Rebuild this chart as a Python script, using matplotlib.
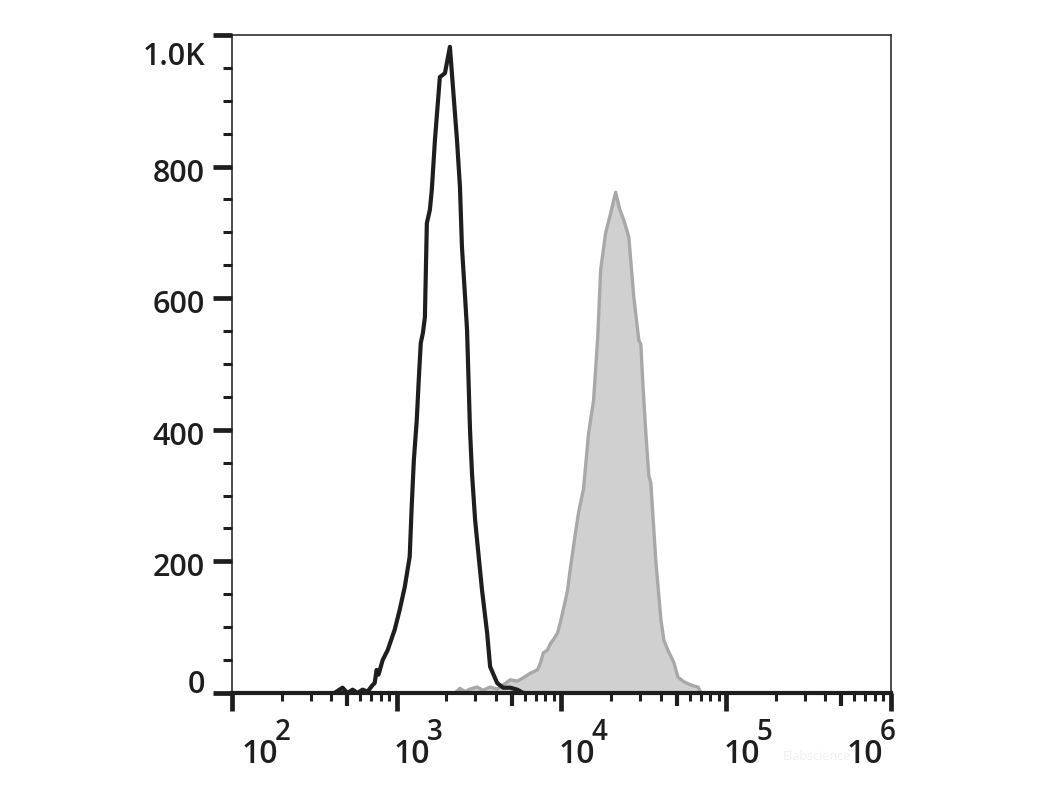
import numpy as np
import matplotlib.pyplot as plt
from matplotlib.ticker import FixedLocator, MultipleLocator, NullFormatter
from matplotlib.transforms import offset_copy, blended_transform_factory

plt.rcParams['font.family'] = ['Open Sans', 'DejaVu Sans']

# control (black outline), fluorescence intensity vs. count
ctrl_x = [419, 469, 502, 540, 578, 621, 665, 714, 735, 755,
          776, 822, 881, 972, 1042, 1119, 1199, 1233, 1271, 1324,
          1361, 1400, 1442, 1483, 1524, 1589, 1633, 1706, 1828, 1963,
          2104, 2163, 2323, 2421, 2489, 2600, 2673, 2786, 2864, 2992,
          3076, 3296, 3540, 3690, 4074, 4426, 4887, 5395, 5861]
ctrl_y = [0, 8, 0, 5, 0, 5, 2, 12, 15, 35,
          28, 50, 65, 96, 126, 161, 207, 283, 354, 415,
          476, 532, 547, 571, 714, 734, 764, 840, 936, 942,
          982, 942, 840, 769, 678, 602, 552, 400, 334, 263,
          232, 156, 91, 40, 15, 8, 8, 5, 0]

# stained sample (grey filled)
stain_x = [684, 2259, 2421, 2600, 2786, 3076, 3342, 3690, 4074, 4426,
           4887, 5395, 5861, 6471, 7145, 7447, 7762, 8222, 8570, 8933,
           9463, 9863, 10570, 10890, 11350, 12160, 12700, 13610, 14620, 15670,
           16600, 17300, 18540, 19890, 21330, 22590, 23880, 25640, 27480, 29500,
           30340, 31190, 32530, 33930, 34890, 37410, 40170, 41880, 44290, 48160,
           50950, 55430, 61190, 67460, 70460]
stain_y = [0, 0, 7, 2, 6, 9, 4, 9, 6, 12,
           20, 18, 23, 30, 35, 45, 61, 65, 75, 81,
           91, 108, 141, 156, 191, 243, 274, 310, 395, 445,
           540, 643, 699, 729, 761, 735, 719, 693, 602, 536,
           530, 471, 395, 330, 319, 200, 111, 80, 65, 46,
           24, 17, 12, 9, 0]

y_ticks = [0, 200, 400, 600, 800, 1000]
y_labels = ['0', '200', '400', '600', '800', '1.0K']
x_exps = [2, 3, 4, 5, 6]

ink = '#1e1e1e'

fig = plt.figure(figsize=(10.51, 7.88), dpi=100)
ax = fig.add_axes([0.2207, 0.1206, 0.6270, 0.8350])

ax.fill_between(stain_x, stain_y, 0, color='#d0d0d0', lw=0)
ax.plot(stain_x, stain_y, color='#a8a8a8', lw=2.4)
ax.plot(ctrl_x, ctrl_y, color=ink, lw=3)

ax.set_xscale('log')
ax.set_xlim(1e2, 1e6)
ax.set_ylim(0, 1000)

for side in ['left', 'top', 'right']:
    ax.spines[side].set_linewidth(1.1)
    ax.spines[side].set_color(ink)
ax.spines['bottom'].set_linewidth(3)
ax.spines['bottom'].set_color(ink)

# x ticks: decades long, 5x medium, rest short
major_locs = [10.0 ** e for e in x_exps]
minor_locs = [s * 10.0 ** d for d in range(2, 6) for s in range(2, 10)]
ax.xaxis.set_major_locator(FixedLocator(major_locs))
ax.xaxis.set_minor_locator(FixedLocator(minor_locs))
ax.xaxis.set_major_formatter(NullFormatter())
ax.xaxis.set_minor_formatter(NullFormatter())
ax.tick_params(axis='x', which='major', direction='out', length=13, width=3.4, color=ink)
ax.tick_params(axis='x', which='minor', direction='out', length=6, width=2.2, color=ink)
for t, v in zip(ax.xaxis.get_minor_ticks(len(minor_locs)), minor_locs):
    if round(v / 10 ** np.floor(np.log10(v))) == 5:
        t.tick1line.set_markersize(9.4)
        t.tick1line.set_markeredgewidth(3)

ax.yaxis.set_major_locator(FixedLocator(y_ticks))
ax.yaxis.set_minor_locator(MultipleLocator(50))
ax.yaxis.set_major_formatter(NullFormatter())
ax.tick_params(axis='y', which='major', direction='out', length=13.7, width=3.4, color=ink)
ax.tick_params(axis='y', which='minor', direction='out', length=6.5, width=2.2, color=ink)

# y labels, pushed inward at the ends like the cytometry software does
ytrans = blended_transform_factory(ax.transAxes, ax.transData)
for v, lab in zip(y_ticks, y_labels):
    if v == 0:
        dy = 0
    elif v == 1000:
        dy = -30
    else:
        dy = -15
    ax.text(0, v, lab, ha='right', va='baseline', fontsize=22, fontweight='semibold',
            color=ink, transform=offset_copy(ytrans, fig=fig, x=-27, y=dy, units='dots'))

# x labels as 10 with raised exponent
xtrans = blended_transform_factory(ax.transData, ax.transAxes)
for e in x_exps:
    dx = -3
    if e == 2:
        dx = 10
    elif e == 6:
        dx = -44
    ax.text(10.0 ** e, 0, '10', ha='left', va='baseline', fontsize=23, fontweight='semibold',
            color=ink, transform=offset_copy(xtrans, fig=fig, x=dx, y=-70, units='dots'))
    ax.text(10.0 ** e, 0, str(e), ha='left', va='baseline', fontsize=20, fontweight='semibold',
            color=ink, transform=offset_copy(xtrans, fig=fig, x=dx + 33, y=-47, units='dots'))

fig.text(0.745, 0.036, 'Elabscience', fontsize=9, color='#f0f0f0')

fig.savefig('out.png', dpi=100)
